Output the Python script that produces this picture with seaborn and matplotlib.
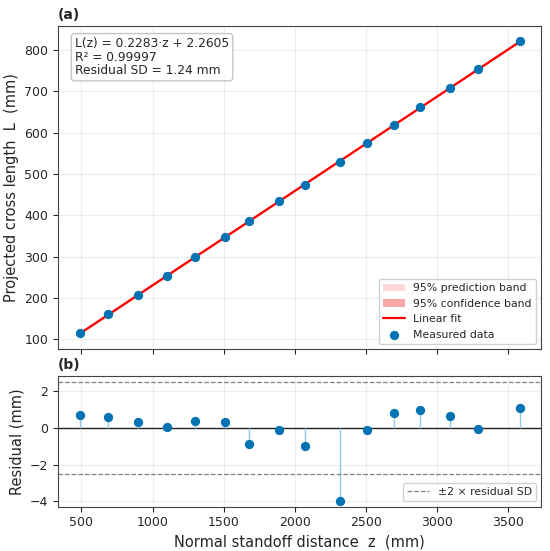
import matplotlib
matplotlib.use("Agg")
import matplotlib.pyplot as plt
import seaborn as sns
import numpy as np
import pandas as pd

# measured standoff distance z (mm) and projected cross length L (mm)
z_mm = [490, 690, 900, 1100, 1300, 1510, 1680, 1890, 2070, 2320,
        2510, 2700, 2880, 3090, 3290, 3580]
L_mm = [114.80, 160.39, 208.07, 253.46, 299.45, 347.33, 384.93, 433.62,
        473.87, 527.95, 575.20, 619.51, 660.72, 708.38, 753.32, 820.66]

fit_text = "L(z) = 0.2283·z + 2.2605\nR² = 0.99997\nResidual SD = 1.24 mm"
t_975 = 2.145  # t quantile, 14 dof

sns.set_style("ticks")
plt.rcParams['font.family'] = ['DejaVu Sans']

df = pd.DataFrame({'z': z_mm, 'L': L_mm})
slope, intercept = np.polyfit(df['z'], df['L'], 1)
df['resid'] = df['L'] - (slope * df['z'] + intercept)
n = len(df)
sd = np.sqrt((df['resid'] ** 2).sum() / (n - 2))

zz = np.linspace(df['z'].min(), df['z'].max(), 200)
fit = slope * zz + intercept
zbar = df['z'].mean()
sxx = ((df['z'] - zbar) ** 2).sum()
se_conf = sd * np.sqrt(1 / n + (zz - zbar) ** 2 / sxx)
se_pred = sd * np.sqrt(1 + 1 / n + (zz - zbar) ** 2 / sxx)
line_df = pd.DataFrame({'z': zz, 'L': fit})

fig = plt.figure(figsize=(5.5, 5.51), dpi=100)
ax1 = fig.add_axes([0.1055, 0.366, 0.879, 0.587])
ax2 = fig.add_axes([0.1055, 0.0804, 0.879, 0.237], sharex=ax1)

blue = '#0173b2'

# (a) fit
ax1.fill_between(zz, fit - t_975 * se_pred, fit + t_975 * se_pred,
                 color='red', alpha=0.15, lw=0, label='95% prediction band')
ax1.fill_between(zz, fit - t_975 * se_conf, fit + t_975 * se_conf,
                 color='red', alpha=0.35, lw=0, label='95% confidence band')
sns.lineplot(data=line_df, x='z', y='L', ax=ax1, color='red', lw=1.6,
             label='Linear fit')
sns.scatterplot(data=df, x='z', y='L', ax=ax1, color=blue, s=45,
                edgecolor=blue, linewidth=0, zorder=3, label='Measured data')
ax1.set_ylabel('Projected cross length  L  (mm)', fontsize=10.5)
ax1.set_xlabel('')
ax1.tick_params(labelbottom=False, labelsize=9)
ax1.grid(True, alpha=0.35)
ax1.set_title('(a)', loc='left', fontweight='bold', fontsize=10, pad=5)
ax1.text(0.035, 0.965, fit_text, transform=ax1.transAxes, va='top', ha='left',
         fontsize=8.8, linespacing=1.05,
         bbox=dict(boxstyle='round,pad=0.3', fc='white', ec='0.75', alpha=0.9))
ax1.legend(loc='lower right', fontsize=7.8, framealpha=0.9, edgecolor='0.8')

# (b) residuals
ax2.vlines(df['z'], 0, df['resid'], color='#8ecae6', lw=1.0, zorder=2)
sns.scatterplot(data=df, x='z', y='resid', ax=ax2, color=blue, s=45,
                linewidth=0, zorder=3)
ax2.axhline(0, color='#222222', lw=1.0, zorder=1)
ax2.axhline(2 * sd, color='gray', ls='--', lw=0.9, label='±2 × residual SD')
ax2.axhline(-2 * sd, color='gray', ls='--', lw=0.9)
ax2.set_ylabel('Residual (mm)', fontsize=10.5)
ax2.set_xlabel('Normal standoff distance  z  (mm)', fontsize=10.5)
ax2.tick_params(labelsize=9)
ax2.set_xticks([500, 1000, 1500, 2000, 2500, 3000, 3500])
ax2.grid(True, alpha=0.35)
ax2.set_title('(b)', loc='left', fontweight='bold', fontsize=10, pad=5)
ax2.legend(loc='lower right', fontsize=7.8, framealpha=0.9, edgecolor='0.8')

for ax in (ax1, ax2):
    for sp in ax.spines.values():
        sp.set_color('#444444')

fig.savefig('out.png', dpi=100)
